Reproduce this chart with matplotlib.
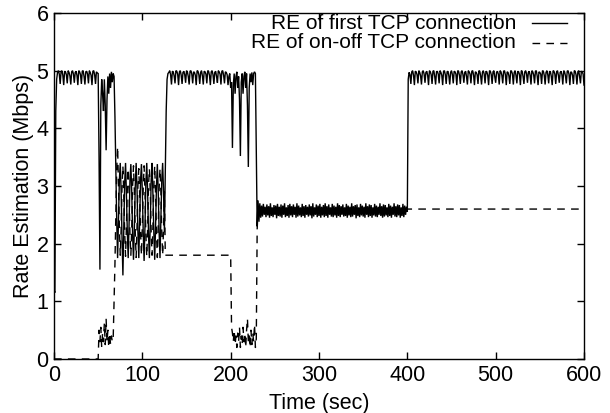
import numpy as np
import matplotlib
matplotlib.use("Agg")
import matplotlib.pyplot as plt
from matplotlib.lines import Line2D

plt.rcParams['font.family'] = ['Liberation Sans', 'DejaVu Sans']

# ---------------- data ----------------
# first TCP connection (solid), segments sampled every ~1 s
rise_t = [0, 3]
rise_v = [1.2, 1.15, 4.3, 4.85]

saw1_t = [4, 49]
saw1_v = [4.97, 5.00, 4.94, 4.77, 4.98, 5.00, 4.92, 4.75, 4.99, 4.98, 4.93, 4.78,
          5.00, 4.97, 4.91, 4.76, 4.98, 5.00, 4.94, 4.79, 4.97, 4.99, 4.92, 4.75,
          5.00, 4.98, 4.93, 4.77, 4.99, 5.00, 4.90, 4.76, 4.98, 4.99, 4.94, 4.78,
          5.00, 4.97, 4.92, 4.75, 4.99, 5.00, 4.93, 4.77, 4.98, 4.96]

drop1_t = [50, 72]
drop1_v = [4.95, 3.5, 1.55, 4.4, 4.85, 4.6, 4.3, 4.85, 4.4, 3.62, 4.5, 4.9,
           4.6, 4.95, 4.7, 4.98, 4.8, 4.95, 4.9, 4.2, 3.3, 2.4, 1.75]

osc1_t = [73, 125]
osc1_v = [2.4, 3.1, 3.4, 2.9, 2.1, 1.45, 2.3, 3.05, 3.4, 2.85, 2.2, 1.75,
          2.35, 3.1, 3.38, 2.9, 2.15, 1.72, 2.3, 3.0, 3.4, 2.95, 2.2, 1.75,
          2.4, 3.1, 3.38, 2.9, 2.2, 1.7, 2.3, 3.05, 3.4, 2.9, 2.15, 1.75,
          2.35, 3.1, 3.4, 2.85, 2.2, 1.72, 2.3, 3.0, 3.38, 2.9, 2.2, 1.75,
          2.4, 3.1, 3.4, 2.9, 2.2]

back1_t = [126, 129]
back1_v = [3.3, 4.3, 4.85, 4.95]

saw2_t = [130, 197]
saw2_v = [4.97, 5.00, 4.93, 4.76, 4.99, 4.98, 4.91, 4.78, 5.00, 4.99, 4.94, 4.75,
          4.98, 5.00, 4.92, 4.77, 4.97, 4.99, 4.93, 4.79, 5.00, 4.98, 4.90, 4.76,
          4.99, 5.00, 4.94, 4.78, 4.98, 4.97, 4.92, 4.75, 5.00, 4.99, 4.93, 4.77,
          4.97, 5.00, 4.91, 4.76, 4.99, 4.98, 4.94, 4.78, 5.00, 4.99, 4.92, 4.75,
          4.98, 5.00, 4.93, 4.77, 4.97, 4.99, 4.90, 4.79, 5.00, 4.98, 4.94, 4.76,
          4.99, 5.00, 4.92, 4.78, 4.98, 4.97, 4.93, 4.75]

dips_t = [198, 229]
dips_v = [4.9, 4.95, 4.7, 4.8, 3.66, 4.75, 4.95, 4.6, 4.9, 4.98, 4.7, 4.9,
          4.5, 3.52, 4.8, 4.95, 4.6, 4.9, 4.98, 4.7, 4.95, 4.4, 3.33, 4.7,
          4.95, 4.8, 4.97, 4.75, 4.95, 4.98, 4.95, 3.6]

band_t = [230, 400]
band_v = [2.30, 2.75, 2.38, 2.70, 2.45, 2.66, 2.47, 2.69, 2.50, 2.64, 2.46, 2.68, 2.49, 2.65, 2.45, 2.70, 2.48, 2.63, 2.46, 2.67,
          2.50, 2.66, 2.44, 2.69, 2.48, 2.64, 2.47, 2.68, 2.45, 2.66, 2.50, 2.70, 2.46, 2.63, 2.48, 2.67, 2.45, 2.69, 2.49, 2.65,
          2.46, 2.68, 2.50, 2.64, 2.45, 2.70, 2.47, 2.66, 2.49, 2.63, 2.46, 2.69, 2.48, 2.65, 2.45, 2.67, 2.50, 2.64, 2.47, 2.68,
          2.49, 2.65, 2.44, 2.70, 2.47, 2.63, 2.50, 2.68, 2.46, 2.66, 2.48, 2.69, 2.45, 2.64, 2.49, 2.67, 2.46, 2.70, 2.48, 2.65,
          2.45, 2.68, 2.50, 2.63, 2.47, 2.69, 2.46, 2.66, 2.49, 2.64, 2.45, 2.70, 2.48, 2.67, 2.46, 2.65, 2.50, 2.68, 2.47, 2.63,
          2.48, 2.69, 2.45, 2.66, 2.49, 2.64, 2.46, 2.70, 2.47, 2.65, 2.50, 2.67, 2.44, 2.68, 2.48, 2.63, 2.46, 2.69, 2.49, 2.66,
          2.47, 2.64, 2.45, 2.70, 2.50, 2.65, 2.46, 2.68, 2.48, 2.67, 2.45, 2.63, 2.49, 2.69, 2.47, 2.66, 2.46, 2.64, 2.50, 2.70,
          2.48, 2.65, 2.45, 2.68, 2.47, 2.67, 2.49, 2.63, 2.46, 2.69, 2.48, 2.66, 2.45, 2.64, 2.50, 2.70, 2.47, 2.65, 2.46, 2.68,
          2.49, 2.67, 2.45, 2.63, 2.48, 2.69, 2.46, 2.66, 2.50, 2.64, 2.55]

saw3_t = [401, 600]
saw3_v = [4.85, 4.97, 4.93, 4.77, 4.98, 5.00, 4.92, 4.75, 4.99, 4.98, 4.93, 4.78,
          5.00, 4.97, 4.91, 4.76, 4.98, 5.00, 4.94, 4.79, 4.97, 4.99, 4.92, 4.75,
          5.00, 4.98, 4.93, 4.77, 4.99, 5.00, 4.90, 4.76, 4.98, 4.99, 4.94, 4.78,
          5.00, 4.97, 4.92, 4.75, 4.99, 5.00, 4.93, 4.77, 4.98, 4.99, 4.91, 4.76,
          4.97, 5.00, 4.93, 4.78, 4.99, 4.98, 4.94, 4.75, 5.00, 4.99, 4.92, 4.77,
          4.98, 5.00, 4.93, 4.79, 4.97, 4.99, 4.90, 4.76, 5.00, 4.98, 4.94, 4.78,
          4.99, 5.00, 4.92, 4.75, 4.98, 4.97, 4.93, 4.77, 5.00, 4.99, 4.91, 4.76,
          4.97, 5.00, 4.94, 4.78, 4.99, 4.98, 4.92, 4.75, 5.00, 4.99, 4.93, 4.77,
          4.98, 5.00, 4.90, 4.79, 4.97, 4.99, 4.94, 4.76, 5.00, 4.98, 4.92, 4.78,
          4.99, 5.00, 4.93, 4.75, 4.98, 4.97, 4.91, 4.77, 5.00, 4.99, 4.94, 4.76,
          4.97, 5.00, 4.92, 4.78, 4.99, 4.98, 4.93, 4.75, 5.00, 4.99, 4.90, 4.77,
          4.98, 5.00, 4.94, 4.79, 4.97, 4.99, 4.92, 4.76, 5.00, 4.98, 4.93, 4.78,
          4.99, 5.00, 4.91, 4.75, 4.98, 4.97, 4.94, 4.77, 5.00, 4.99, 4.92, 4.76,
          4.97, 5.00, 4.93, 4.78, 4.99, 4.98, 4.90, 4.75, 5.00, 4.99, 4.94, 4.77,
          4.98, 5.00, 4.92, 4.79, 4.97, 4.99, 4.93, 4.76, 5.00, 4.98, 4.91, 4.78,
          4.99, 5.00, 4.94, 4.75, 4.98, 4.97, 4.92, 4.77, 5.00, 4.99, 4.93, 4.76,
          4.97, 5.00, 4.90, 4.78, 4.99, 4.98, 4.94, 4.75]

# on-off TCP connection (dashed)
off1_t = [0, 50]
off1_v = [0.0, 0.0]

on1_t = [51, 72]
on1_v = [0.5, 0.3, 0.55, 0.2, 0.45, 0.3, 0.62, 0.25, 0.7, 0.3, 0.5, 0.2,
         0.45, 0.25, 0.4, 0.3, 0.35, 1.0, 1.65, 2.5, 3.3, 3.68]

osc2_t = [73, 125]
osc2_v = [3.0, 2.3, 1.8, 2.25, 3.0, 3.35, 2.85, 2.2, 1.78, 2.3, 2.95, 3.3,
          2.9, 2.15, 1.8, 2.25, 3.0, 3.35, 2.9, 2.2, 1.76, 2.3, 3.0, 3.3,
          2.85, 2.2, 1.8, 2.3, 2.95, 3.35, 2.9, 2.15, 1.78, 2.25, 3.0, 3.3,
          2.9, 2.2, 1.8, 2.3, 3.0, 3.35, 2.85, 2.2, 1.76, 2.3, 2.95, 3.3,
          2.9, 2.2, 1.8, 2.25, 2.9]

flat1_t = [126, 200]
flat1_v = [1.8, 1.8]

on2_t = [201, 229]
on2_v = [0.55, 0.45, 0.3, 0.5, 0.25, 0.4, 0.2, 0.45, 0.3, 0.55, 0.2, 0.4,
         0.25, 0.55, 0.3, 0.45, 0.2, 0.5, 0.7, 0.3, 0.4, 0.2, 0.5, 0.25,
         0.45, 0.3, 0.6, 0.2, 0.35]

tail_t = [230, 231, 600]
tail_v = [2.25, 2.6, 2.6]

legend_labels = ["RE of first TCP connection", "RE of on-off TCP connection"]
x_ticks = [0, 100, 200, 300, 400, 500, 600]
y_ticks = [0, 1, 2, 3, 4, 5, 6]


def seg_times(bounds, vals):
    return np.linspace(bounds[0], bounds[1], len(vals))


solid_parts = [(rise_t, rise_v), (saw1_t, saw1_v), (drop1_t, drop1_v), (osc1_t, osc1_v),
               (back1_t, back1_v), (saw2_t, saw2_v), (dips_t, dips_v), (band_t, band_v),
               (saw3_t, saw3_v)]
solid_t = np.concatenate([seg_times(b, v) for b, v in solid_parts])
solid_v = np.concatenate([np.asarray(v, float) for b, v in solid_parts])

dashed_parts = [(off1_t, off1_v), (on1_t, on1_v), (osc2_t, osc2_v), (flat1_t, flat1_v),
                (on2_t, on2_v)]
dashed_t = np.concatenate([seg_times(b, v) for b, v in dashed_parts] + [np.asarray(tail_t, float)])
dashed_v = np.concatenate([np.asarray(v, float) for b, v in dashed_parts] + [np.asarray(tail_v, float)])

# ---------------- figure ----------------
fig = plt.figure(figsize=(6.10, 4.13), dpi=100)
ax = fig.add_axes([54 / 610, 1 - 359 / 413, 530 / 610, 346 / 413])

ax.plot(solid_t, solid_v, color='black', lw=1.0, solid_joinstyle='miter')
ax.plot(dashed_t, dashed_v, color='black', lw=1.0, dashes=(5.5, 4.5))

ax.set_xlim(0, 600)
ax.set_ylim(0, 6)
ax.set_xticks(x_ticks)
ax.set_yticks(y_ticks)
ax.tick_params(direction='in', top=True, right=True, length=5, width=1,
               labelsize=15.5, pad=4)
for s in ax.spines.values():
    s.set_linewidth(1.0)

ax.set_xlabel("Time (sec)", fontsize=15.5, labelpad=5)
ax.set_ylabel("Rate Estimation (Mbps)", fontsize=15.5, labelpad=2)

# gnuplot-style key: right-aligned text, sample to the right
key_y = [0.970, 0.914]
styles = [dict(), dict(dashes=(5.5, 4.5))]
for lab, yy, st in zip(legend_labels, key_y, styles):
    ax.text(0.872, yy, lab, transform=ax.transAxes, ha='right', va='center',
            fontsize=15)
    ax.add_line(Line2D([0.902, 0.968], [yy, yy], transform=ax.transAxes,
                       color='black', lw=1.0, **st))

fig.savefig("out.png", dpi=100)
